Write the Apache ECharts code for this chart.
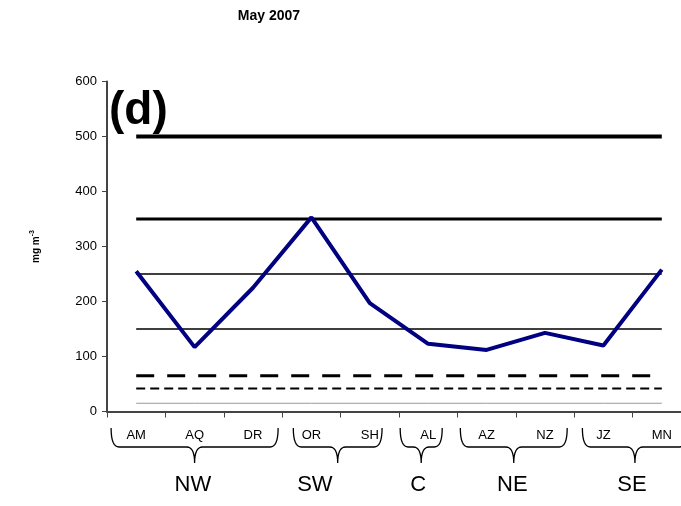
<!DOCTYPE html>
<html>
<head>
<meta charset="utf-8">
<script src="https://cdn.jsdelivr.net/npm/echarts@6/dist/echarts.min.js"></script>
<style>html,body{margin:0;padding:0;background:#fff}#c{width:681px;height:506px}</style>
</head>
<body>
<div id="c"></div>
<script>
// ---- data ----
const categories = ['AM','AQ','DR','OR','SH','AL','AZ','NZ','JZ','MN'];
const values = [255, 117, 225, 353, 197, 123, 112, 143, 120, 258];
const thresholds = [500, 350, 250, 150, 65, 42, 15];
const yTicks = [0, 100, 200, 300, 400, 500, 600];
const groupNames = ['NW', 'SW', 'C', 'NE', 'SE'];
const groupStart = [-0.43, 2.69, 4.52, 5.55, 7.64];
const groupEnd = [2.43, 4.21, 5.24, 7.38, 9.44];
const groupLabelAt = [0.97, 3.06, 4.83, 6.44, 8.49];

const thresholdStyles = [
  {width: 4, type: 'solid', color: '#000'},
  {width: 3, type: 'solid', color: '#000'},
  {width: 1.4, type: 'solid', color: '#000'},
  {width: 1.4, type: 'solid', color: '#000'},
  {width: 3, type: [18, 13], color: '#000'},
  {width: 2, type: [9, 5], color: '#000'},
  {width: 1, type: 'solid', color: '#999'}
];

const chart = echarts.init(document.getElementById('c'), null, {renderer: 'canvas'});
const FONT = 'Liberation Sans, Arial, sans-serif';

const series = thresholds.map((t, i) => ({
  type: 'line',
  data: categories.map(() => t),
  symbol: 'none',
  silent: true,
  lineStyle: thresholdStyles[i],
  z: 2
}));
series.push({
  type: 'line',
  data: values,
  symbol: 'none',
  lineStyle: {color: '#000080', width: 4},
  z: 5
});

chart.setOption({
  animation: false,
  grid: {left: 107, top: 81.5, bottom: 94.5, width: 584, outerBoundsMode: 'none', containLabel: false},
  xAxis: {
    type: 'category',
    data: categories,
    boundaryGap: true,
    axisLine: {lineStyle: {color: '#444', width: 2}},
    axisTick: {show: true, length: 6, lineStyle: {color: '#444', width: 1}},
    axisLabel: {color: '#000', fontSize: 13, fontFamily: FONT, margin: 17, interval: 0}
  },
  yAxis: {
    type: 'value',
    min: yTicks[0], max: yTicks[yTicks.length - 1], interval: 100,
    splitLine: {show: false},
    axisLine: {show: true, lineStyle: {color: '#444', width: 2}},
    axisTick: {show: true, length: 5, lineStyle: {color: '#444', width: 1}},
    axisLabel: {color: '#000', fontSize: 13, fontFamily: FONT, margin: 10},
    name: '{a|mg m}{s|-3}',
    nameLocation: 'middle',
    nameRotate: 90,
    nameGap: 64,
    nameTextStyle: {
      rich: {
        a: {fontSize: 10, fontWeight: 'bold', fontFamily: FONT, color: '#000', lineHeight: 14},
        s: {fontSize: 7, fontWeight: 'bold', fontFamily: FONT, color: '#000', verticalAlign: 'top', lineHeight: 14}
      }
    }
  },
  series: series
});

function quad(p0, c, p1, n) {
  const pts = [];
  for (let k = 1; k <= n; k++) {
    const t = k / n, u = 1 - t;
    pts.push([u * u * p0[0] + 2 * u * t * c[0] + t * t * p1[0], u * u * p0[1] + 2 * u * t * c[1] + t * t * p1[1]]);
  }
  return pts;
}

function drawDecor() {
  const c0 = chart.convertToPixel({xAxisIndex: 0}, 0);
  const c1 = chart.convertToPixel({xAxisIndex: 0}, 1);
  const px = v => c0 + v * (c1 - c0);
  const els = [];
  els.push({type: 'text', x: 269, y: 16,
    style: {text: 'May 2007', fill: '#000', font: 'bold 14px ' + FONT, align: 'center', verticalAlign: 'middle'}});
  els.push({type: 'text', x: 109, y: 111,
    style: {text: '(d)', fill: '#000', font: 'bold 46px ' + FONT, align: 'left', verticalAlign: 'middle'}});
  const y0 = 428, y1 = 447, y2 = 463, r = 8;
  for (let i = 0; i < groupNames.length; i++) {
    const x1 = px(groupStart[i]);
    const x2 = px(groupEnd[i]);
    const cx = (x1 + x2) / 2;
    let pts = [[x1, y0]];
    pts = pts.concat(quad([x1, y0], [x1, y1], [x1 + r, y1], 8));
    pts.push([cx - r, y1]);
    pts = pts.concat(quad([cx - r, y1], [cx, y1], [cx, y2], 8));
    pts = pts.concat(quad([cx, y2], [cx, y1], [cx + r, y1], 8));
    pts.push([x2 - r, y1]);
    pts = pts.concat(quad([x2 - r, y1], [x2, y1], [x2, y0], 8));
    els.push({type: 'polyline', shape: {points: pts},
      style: {fill: null, stroke: '#000', lineWidth: 1.3}});
    els.push({type: 'text', x: px(groupLabelAt[i]), y: 485,
      style: {text: groupNames[i], fill: '#000', font: '22px ' + FONT, align: 'center', verticalAlign: 'middle'}});
  }
  chart.setOption({graphic: {elements: els}});
}
drawDecor();
</script>
</body>
</html>
